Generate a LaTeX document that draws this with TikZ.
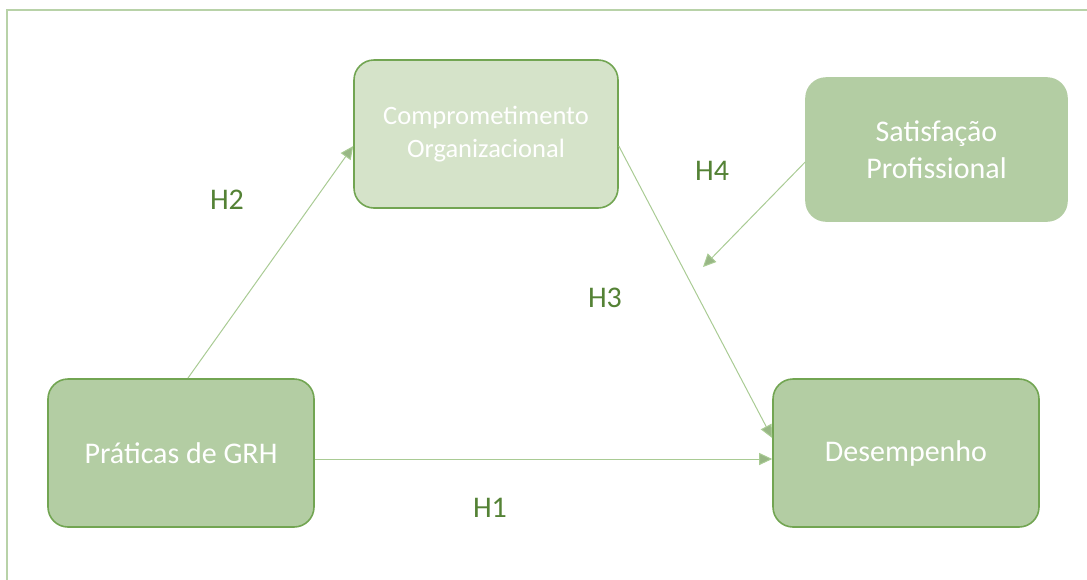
\documentclass[tikz,border=0pt]{standalone}
\usepackage{fontspec}
\setmainfont{Carlito}
\usetikzlibrary{arrows.meta}
\definecolor{boxfill}{HTML}{B3CDA3}
\definecolor{boxlight}{HTML}{D5E3C9}
\definecolor{boxedge}{HTML}{72A552}
\definecolor{lineclr}{HTML}{A9CB94}
\definecolor{labelclr}{HTML}{548235}
\definecolor{frameclr}{HTML}{B8D2A8}
\begin{document}
\begin{tikzpicture}[x=1pt,y=-1pt,
  box/.style={rounded corners=20pt, fill=boxfill, draw=boxedge, line width=1.6pt,
    text=white, align=center, inner sep=0pt},
  conn/.style={draw=lineclr, line width=1pt, -{Triangle[length=13pt,width=12pt,fill=lineclr!90!black]}},
  hlab/.style={text=labelclr, font=\fontsize{30}{34}\selectfont}
]
\useasboundingbox (0,0) rectangle (1087,579);
\draw[frameclr, line width=2pt] (7,590) -- (7,10) -- (1100,10);

\node[box, fill=boxlight, minimum width=264pt, minimum height=148pt,
  font=\fontsize{26.5}{33}\selectfont] (co) at (486,134) {Comprometimento\\Organizacional};
\node[box, draw=boxfill, minimum width=261pt, minimum height=143pt,
  font=\fontsize{30}{37}\selectfont] (sp) at (936.5,149.5) {Satisfação\\Profissional};
\node[box, minimum width=266pt, minimum height=148pt,
  font=\fontsize{30}{34}\selectfont] (gr) at (181,453) {\raisebox{-3pt}{Práticas de GRH}};
\node[box, minimum width=266pt, minimum height=148pt,
  font=\fontsize{30}{34}\selectfont] (de) at (906,453) {\raisebox{-3pt}{Desempenho}};

\coordinate (h4end) at (703,267);
\coordinate (grtop) at (188,378);
\draw[conn] (grtop) -- (co.west |- 0,146);
\draw[conn] (co.east |- 0,146) -- (de.west |- 0,438);
\draw[conn] (gr.east |- 0,459) -- (de.west |- 0,459);
\draw[conn] (sp.west |- 0,162) -- (h4end);

\node[hlab] (l2) at (227,200) {H2};
\node[hlab] (l3) at (605,298) {H3};
\node[hlab] (l1) at (490,508) {H1};
\node[hlab] (l4) at (712,171) {H4};
\end{tikzpicture}
\end{document}
